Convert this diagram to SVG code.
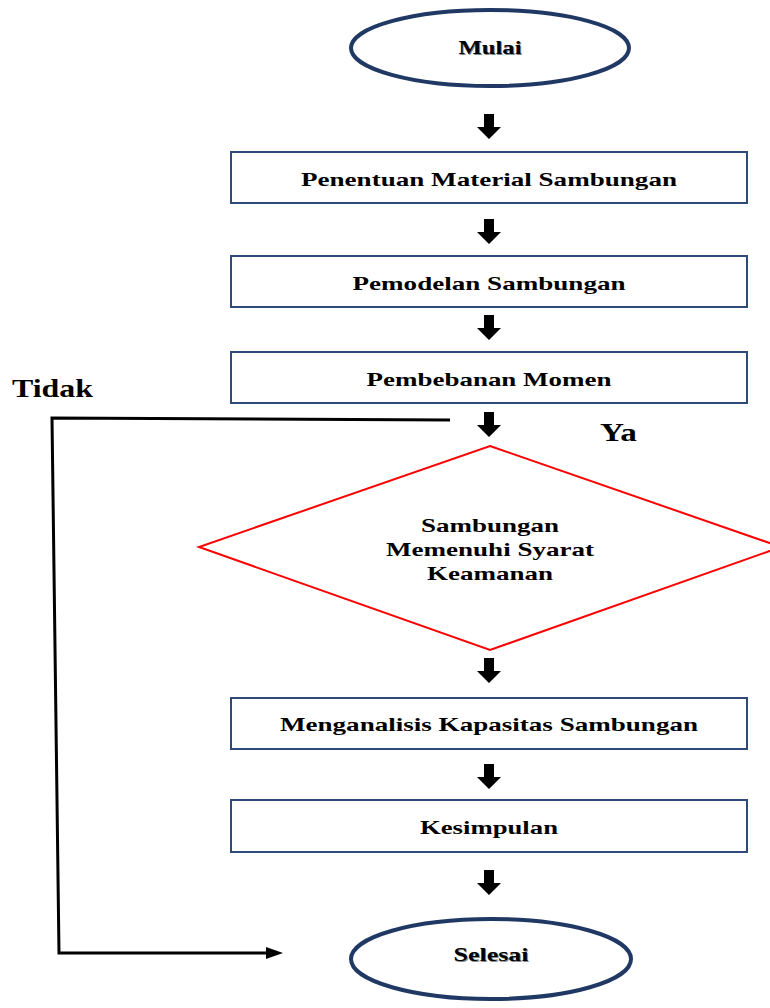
<svg xmlns="http://www.w3.org/2000/svg" width="770" height="1008" viewBox="0 0 770 1008">
<defs>
<style>
.term{fill:#fff;stroke:#203864;stroke-width:4}
.box{fill:#fff;stroke:#2f4a78;stroke-width:2}
.dec{fill:#fff;stroke:#ff0000;stroke-width:2}
.t{font-family:"Liberation Serif","Times New Roman",serif;font-weight:bold;font-size:19px;fill:#000;text-anchor:middle}
.sh{font-family:"Liberation Serif","Times New Roman",serif;font-weight:bold;font-size:19px;fill:#888;text-anchor:middle}
.lbl{font-family:"Liberation Serif","Times New Roman",serif;font-weight:bold;font-size:25px;fill:#000}
.blk{fill:#000}
.ln{fill:none;stroke:#000;stroke-width:3}
</style>
<path id="ba" d="M-5,0 H5 V13 H12 L0,25 L-12,13 H-5 Z"/>
</defs>
<rect width="770" height="1008" fill="#fff"/>
<g id="connectors">
<use href="#ba" class="blk" x="489" y="114"/>
<use href="#ba" class="blk" x="489" y="219"/>
<use href="#ba" class="blk" x="489" y="315"/>
<use href="#ba" class="blk" x="489" y="412"/>
<use href="#ba" class="blk" x="489" y="658"/>
<use href="#ba" class="blk" x="489" y="764"/>
<use href="#ba" class="blk" x="489" y="870"/>
<polyline class="ln" points="450,420 52,418 59,953 272,953"/>
<path d="M266,947 L283,953 L266,959 Z" fill="#000"/>
</g>
<g id="start">
<ellipse class="term" cx="490" cy="48" rx="139" ry="38"/>
<text class="sh" x="491" y="55" textLength="63" lengthAdjust="spacingAndGlyphs">Mulai</text>
<text class="t" x="490" y="54" textLength="63" lengthAdjust="spacingAndGlyphs">Mulai</text>
</g>
<g id="n1">
<rect class="box" x="231" y="152" width="516" height="51"/>
<text class="t" x="489" y="186" textLength="376" lengthAdjust="spacingAndGlyphs">Penentuan Material Sambungan</text>
</g>
<g id="n2">
<rect class="box" x="231" y="256" width="516" height="51"/>
<text class="t" x="489" y="290" textLength="273" lengthAdjust="spacingAndGlyphs">Pemodelan Sambungan</text>
</g>
<g id="n3">
<rect class="box" x="231" y="352" width="516" height="51"/>
<text class="t" x="489" y="386" textLength="245" lengthAdjust="spacingAndGlyphs">Pembebanan Momen</text>
</g>
<g id="decision">
<polygon class="dec" points="490,446 781,547 490,650 199,547"/>
<text class="t" x="490" y="532" textLength="138" lengthAdjust="spacingAndGlyphs">Sambungan</text>
<text class="t" x="490" y="556" textLength="208" lengthAdjust="spacingAndGlyphs">Memenuhi Syarat</text>
<text class="t" x="490" y="580" textLength="126" lengthAdjust="spacingAndGlyphs">Keamanan</text>
</g>
<g id="n4">
<rect class="box" x="231" y="698" width="516" height="51"/>
<text class="t" x="489" y="731" textLength="418" lengthAdjust="spacingAndGlyphs">Menganalisis Kapasitas Sambungan</text>
</g>
<g id="n5">
<rect class="box" x="231" y="800" width="516" height="52"/>
<text class="t" x="489" y="834" textLength="138" lengthAdjust="spacingAndGlyphs">Kesimpulan</text>
</g>
<g id="end">
<ellipse class="term" cx="491" cy="959" rx="140" ry="40"/>
<text class="sh" x="492" y="962" textLength="75" lengthAdjust="spacingAndGlyphs">Selesai</text>
<text class="t" x="491" y="961" textLength="75" lengthAdjust="spacingAndGlyphs">Selesai</text>
</g>
<g id="labels">
<text class="lbl" x="12" y="397" textLength="81" lengthAdjust="spacingAndGlyphs">Tidak</text>
<text class="lbl" x="600" y="441" textLength="37" lengthAdjust="spacingAndGlyphs">Ya</text>
</g>
</svg>
